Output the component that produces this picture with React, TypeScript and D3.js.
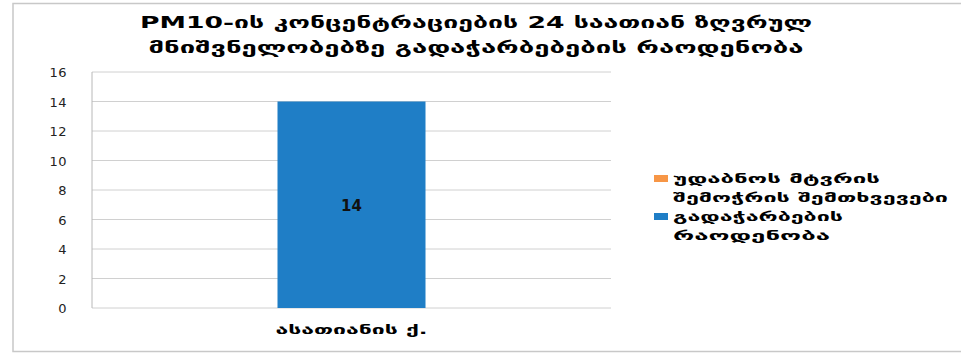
import React from "react";
import * as d3 from "d3";

const titleLines = ["PM10-ის კონცენტრაციების 24 საათიან ზღვრულ", "მნიშვნელობებზე გადაჭარბებების რაოდენობა"];
const categories = ["ასათიანის ქ."];
const seriesNames = ["უდაბნოს მტვრის შემოჭრის შემთხვევები", "გადაჭარბების რაოდენობა"];
const legendLines = [["უდაბნოს მტვრის", "შემოჭრის შემთხვევები"], ["გადაჭარბების", "რაოდენობა"]];
const dustValues = [0];
const exceedValues = [14];
const yTicks = [0, 2, 4, 6, 8, 10, 12, 14, 16];
const colors = ["#F79646", "#1F7EC6"];

export default function App() {
  const W = 961, H = 353;
  const plot = { left: 92, right: 611, top: 72, bottom: 308 };
  const x = d3.scaleBand().domain(categories).range([plot.left, plot.right]).paddingInner(0).paddingOuter(0);
  const y = d3.scaleLinear().domain([0, 16]).range([plot.bottom, plot.top]);
  const barW = 148;
  const font = "'DejaVu Sans', sans-serif";
  const stack = d3.stack<any>().keys(["dust", "exceed"])(
    categories.map((c, i) => ({ cat: c, dust: dustValues[i], exceed: exceedValues[i] }))
  );
  return (
    <svg width={W} height={H} style={{ position: "absolute", left: 0, top: 0 }}>
      <rect x={0} y={0} width={W} height={H} fill="#fff" />
      <rect x={13} y={3.5} width={960} height={348} fill="#fff" stroke="#c8c8c8" strokeWidth={1.5} />
      {titleLines.map((t, i) => (
        <text key={i} x={476} y={28 + i * 25} textAnchor="middle" fontFamily={font} fontWeight="bold" fontSize={16.5}
          textLength={i === 0 ? 672 : 655} lengthAdjust="spacingAndGlyphs" fill="#000">{t}</text>
      ))}
      {yTicks.map((t) => (
        <g key={t}>
          <line x1={plot.left} x2={plot.right} y1={y(t)} y2={y(t)} stroke="#d0d0d0" strokeWidth={1} />
          <text x={67} y={y(t) + 5} textAnchor="end" fontFamily={font} fontSize={13} fill="#222" letterSpacing={0.5}>{t}</text>
        </g>
      ))}
      <line x1={plot.left} x2={plot.left} y1={plot.top} y2={plot.bottom} stroke="#b8b8b8" strokeWidth={1} />
      {stack.map((s, si) =>
        s.map((d, i) => {
          const cx = x(categories[i])! + x.bandwidth() / 2;
          const h = y(d[0]) - y(d[1]);
          if (h <= 0) return null;
          return <rect key={si + "-" + i} x={cx - barW / 2} y={y(d[1])} width={barW} height={h} fill={colors[si]} />;
        })
      )}
      {categories.map((c, i) => {
        const cx = x(c)! + x.bandwidth() / 2;
        return (
          <g key={c}>
            <text x={cx} y={y(exceedValues[i] / 2) + 6} textAnchor="middle" fontFamily={font} fontWeight="bold" fontSize={15} fill="#111">
              {exceedValues[i]}
            </text>
            <text x={cx} y={334} textAnchor="middle" fontFamily={font} fontWeight="bold" fontSize={13}
              textLength={152} lengthAdjust="spacingAndGlyphs" fill="#000">{c}</text>
          </g>
        );
      })}
      {seriesNames.map((n, i) => (
        <g key={n}>
          <rect x={654} y={175 + i * 38} width={14} height={7} fill={colors[i]} />
          {legendLines[i].map((l, j) => {
            const lens = [[207, 275], [170, 157]];
            return (
              <text key={j} x={673} y={183 + i * 38 + j * 19} fontFamily={font} fontWeight="bold" fontSize={13}
                textLength={lens[i][j]} lengthAdjust="spacingAndGlyphs" fill="#000">{l}</text>
            );
          })}
        </g>
      ))}
    </svg>
  );
}
